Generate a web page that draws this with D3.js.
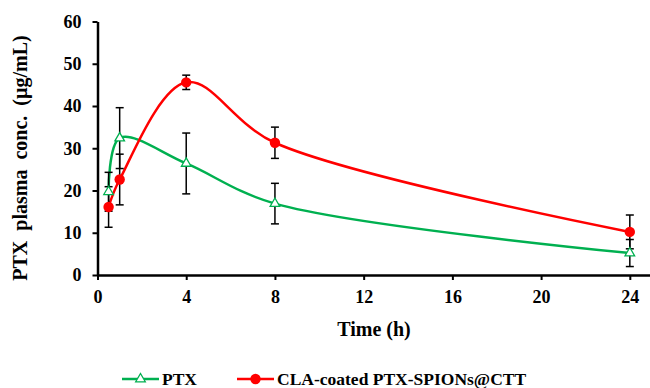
<!DOCTYPE html>
<html><head><meta charset="utf-8">
<script src="https://cdn.jsdelivr.net/npm/d3@7"></script>
<style>body{margin:0;background:#fff}svg{display:block}
text{font-family:"Liberation Serif","Times New Roman","DejaVu Serif",serif;font-weight:bold}</style>
</head><body>
<svg id="c" width="650" height="388"></svg>
<script>
const times = [0.5, 1, 4, 8, 24];
const ptxValues = [19.7, 32.4, 26.4, 16.9, 5.2];
const ptxErrors = [4.6, 7.2, 7.2, 4.8, 3.2];
const claValues = [16.1, 22.6, 45.6, 31.3, 10.2];
const claErrors = [4.8, 6.0, 1.7, 3.7, 4.0];
const xTicks = [0, 4, 8, 12, 16, 20, 24];
const yTicks = [0, 10, 20, 30, 40, 50, 60];
const seriesNames = ["PTX", "CLA-coated PTX-SPIONs@CTT"];

const svg = d3.select("#c");
const x = d3.scaleLinear().domain([0, 25]).range([97.5, 652]);
const y = d3.scaleLinear().domain([0, 60]).range([275, 21.5]);

const series = [
  {name: seriesNames[0], vals: ptxValues, errs: ptxErrors, color: "#00b050", marker: "tri"},
  {name: seriesNames[1], vals: claValues, errs: claErrors, color: "#ff0000", marker: "circle"}
];

const xAxis = svg.append("g").attr("transform", `translate(0,${y(0)})`)
  .call(d3.axisBottom(x).tickValues(xTicks).tickSize(5).tickPadding(10).tickSizeOuter(0));
const yAxis = svg.append("g").attr("transform", `translate(${x(0)},0)`)
  .call(d3.axisLeft(y).tickValues(yTicks).tickSize(5).tickPadding(11).tickSizeOuter(0));
[xAxis, yAxis].forEach(g => {
  g.attr("font-family", null).attr("font-size", null);
  g.select(".domain").attr("stroke", "#000").attr("stroke-width", 2.5);
  g.selectAll(".tick line").attr("stroke", "#000").attr("stroke-width", 2);
  g.selectAll(".tick text").style("font-size", "18px").attr("fill", "#000");
});

const line = d3.line().x(d => x(d[0])).y(d => y(d[1])).curve(d3.curveCatmullRom.alpha(0.5));

series.forEach(s => {
  const pts = times.map((t, i) => [t, s.vals[i]]);
  svg.append("path").datum(pts).attr("d", line).attr("fill", "none")
    .attr("stroke", s.color).attr("stroke-width", 2.5);
});

series.forEach(s => {
  const g = svg.append("g").attr("stroke", "#000").attr("stroke-width", 1.5);
  times.forEach((t, i) => {
    const cx = x(t), lo = y(s.vals[i] - s.errs[i]), hi = y(s.vals[i] + s.errs[i]);
    g.append("line").attr("x1", cx).attr("x2", cx).attr("y1", lo).attr("y2", hi);
    g.append("line").attr("x1", cx - 4).attr("x2", cx + 4).attr("y1", lo).attr("y2", lo);
    g.append("line").attr("x1", cx - 4).attr("x2", cx + 4).attr("y1", hi).attr("y2", hi);
  });
});

const tri = d3.symbol().type(d3.symbolTriangle).size(40);
function drawMarker(g, s, cx, cy) {
  if (s.marker === "tri") {
    g.append("path").attr("d", tri()).attr("transform", `translate(${cx},${cy})`)
      .attr("fill", "#fff").attr("stroke", s.color).attr("stroke-width", 1.3);
  } else {
    g.append("circle").attr("cx", cx).attr("cy", cy).attr("r", 5.2).attr("fill", s.color);
  }
}
series.forEach(s => {
  const g = svg.append("g");
  times.forEach((t, i) => drawMarker(g, s, x(t), y(s.vals[i])));
});

svg.append("text").attr("x", 374).attr("y", 336).attr("text-anchor", "middle")
  .style("font-size", "20px").text("Time (h)");
svg.append("text").attr("transform", "translate(27,158) rotate(-90)").attr("text-anchor", "middle")
  .style("font-size", "20px").style("word-spacing", "5px").text("PTX plasma conc. (µg/mL)");

const legendItems = [{s: series[0], x0: 122}, {s: series[1], x0: 237}];
legendItems.forEach(li => {
  const g = svg.append("g");
  g.append("line").attr("x1", li.x0).attr("x2", li.x0 + 37).attr("y1", 379).attr("y2", 379)
    .attr("stroke", li.s.color).attr("stroke-width", 2.5);
  drawMarker(g, li.s, li.x0 + 18.5, 379);
  g.append("text").attr("x", li.x0 + 40).attr("y", 385).style("font-size", "17.5px").text(li.s.name);
});
</script>
</body></html>
